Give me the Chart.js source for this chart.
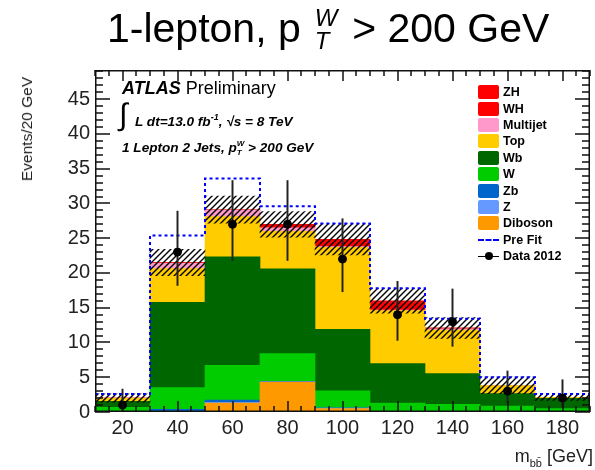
<!DOCTYPE html>
<html>
<head>
<meta charset="utf-8">
<script src="https://cdn.jsdelivr.net/npm/chart.js@4"></script>
<style>
  body { margin: 0; background: #fff; font-family: "Liberation Sans", Arial, sans-serif; }
  #wrap { position: relative; width: 595px; height: 470px; overflow: hidden; }
  canvas { position: absolute; left: 0; top: 0; }
  .abs { position: absolute; white-space: nowrap; color: #000; }
  #title { left: 107px; top: 8px; font-size: 41px; line-height: 40px; }
  .ss { display: inline-block; position: relative; width: 26px; height: 10px; margin-left: 14px; }
  .ss i { position: absolute; left: 0; font-size: 24px; line-height: 24px; }
  #ytitle { left: 27px; top: 129px; font-size: 15.5px; color: #222; transform: translate(-50%, -50%) rotate(-90deg); }
  #xtitle { right: 2px; top: 446px; font-size: 18px; color: #222; }
  #atlas { left: 122px; top: 78px; font-size: 18px; }
  .info { font-style: italic; font-weight: bold; font-size: 13.6px; }
  #lumi { left: 135px; top: 112px; }
  #integ { left: 119px; top: 100px; font-size: 31px; font-style: normal; font-weight: normal; line-height: 30px; }
  #sel { left: 122px; top: 139px; }
  #legend { left: 478px; top: 84px; }
  .row { height: 16.4px; display: flex; align-items: center; font-weight: bold; font-size: 12.5px; }
  .sw { width: 21px; height: 14px; border-radius: 2px; margin-right: 4px; position: relative; }
</style>
</head>
<body>
<div id="wrap">
  <canvas id="chart" width="595" height="470"></canvas>
  <div class="abs" id="title">1-lepton, p<span class="ss"><i style="top:-26px">W</i><i style="top:-3px">T</i></span> &gt; 200 GeV</div>
  <div class="abs" id="ytitle">Events/20 GeV</div>
  <div class="abs" id="xtitle">m<sub style="font-size:11px">bb&#772;</sub> [GeV]</div>
  <div class="abs" id="atlas"><b><i>ATLAS</i></b> Preliminary</div>
  <div class="abs" id="integ">&int;</div>
  <div class="abs info" id="lumi">L dt=13.0 fb<sup style="font-size:9px">-1</sup>,  &radic;s = 8 TeV</div>
  <div class="abs info" id="sel">1 Lepton 2 Jets, p<sub style="font-size:8px">T</sub><sup style="font-size:8px;margin-left:-5px">W</sup> &gt; 200 GeV</div>
  <div class="abs" id="legend"></div>
</div>
<script>
// m_bb bins, 20 GeV wide
const binCenters = [20, 40, 60, 80, 100, 120, 140, 160, 180];
const binEdges = [10, 30, 50, 70, 90, 110, 130, 150, 170, 190];
const xTickLabels = [20, 40, 60, 80, 100, 120, 140, 160, 180];
const yTickLabels = [0, 5, 10, 15, 20, 25, 30, 35, 40, 45];

// post-fit backgrounds and signal, stacked bottom to top
const diboson  = [0.05, 0.05, 1.3, 4.3, 0.5, 0.05, 0.05, 0.02, 0.02];
const zLight   = [0, 0.05, 0.1, 0.05, 0.05, 0.02, 0, 0, 0];
const zb       = [0.02, 0.3, 0.3, 0.05, 0.05, 0.03, 0.05, 0.02, 0.02];
const wLight   = [0.6, 3.1, 5.03, 4.0, 2.43, 1.2, 1.0, 0.8, 0.45];
const wb       = [0.85, 12.27, 15.6, 12.18, 8.87, 5.67, 4.43, 1.81, 1.46];
const ttbar    = [0.45, 4.88, 5.77, 5.42, 11.8, 7.63, 6.27, 1.15, 0.15];
const multijet = [0.05, 0.75, 0.9, 0.5, 0.1, 0.05, 0.15, 0.05, 0.02];
const wh       = [0, 0.05, 0.05, 0.4, 0.8, 1.1, 0.1, 0, 0];
const zh       = [0, 0.05, 0.05, 0.1, 0.25, 0.25, 0.05, 0, 0];

// total uncertainty on the stack (half width)
const bkgUnc = [0.6, 1.9, 1.95, 1.85, 2.25, 1.8, 1.5, 1.2, 0.45];
// pre-fit total
const preFit = [2.6, 25.4, 33.6, 29.6, 27.1, 17.8, 13.4, 5.0, 2.6];

// data 2012 with poisson error bars
const data2012 = [1, 23, 27, 27, 22, 14, 13, 3, 2];
const dataLow  = [0.17, 18.2, 21.8, 21.8, 17.3, 10.3, 9.45, 1.37, 0.71];
const dataHigh = [3.3, 28.9, 33.3, 33.3, 27.8, 18.8, 17.7, 5.9, 4.64];

const samples = [
  { name: 'Diboson',  values: diboson,  color: '#ff9900' },
  { name: 'Z',        values: zLight,   color: '#6699ff' },
  { name: 'Zb',       values: zb,       color: '#0066cc' },
  { name: 'W',        values: wLight,   color: '#00cc00' },
  { name: 'Wb',       values: wb,       color: '#006600' },
  { name: 'Top',      values: ttbar,    color: '#ffcc00' },
  { name: 'Multijet', values: multijet, color: '#ff99cc' },
  { name: 'WH',       values: wh,       color: '#ff0000' },
  { name: 'ZH',       values: zh,       color: '#ff0000' }
];

// hatch for the uncertainty band
function makeHatch() {
  const c = document.createElement('canvas');
  c.width = 6; c.height = 6;
  const g = c.getContext('2d');
  g.strokeStyle = '#000';
  g.lineWidth = 1.4;
  g.beginPath();
  g.moveTo(0, 6); g.lineTo(6, 0);
  g.moveTo(-1, 1); g.lineTo(1, -1);
  g.moveTo(5, 7); g.lineTo(7, 5);
  g.stroke();
  return g.createPattern(c, 'repeat');
}

const totals = binCenters.map((_, i) => samples.reduce((s, smp) => s + smp.values[i], 0));

const datasets = samples.map(s => ({
  type: 'bar',
  label: s.name,
  data: binCenters.map((x, i) => ({ x: x, y: s.values[i] })),
  backgroundColor: s.color,
  borderWidth: 0,
  barPercentage: 1,
  categoryPercentage: 1,
  order: 0
}));

datasets.push({
  type: 'bar',
  label: 'band',
  stack: 'band',
  grouped: false,
  data: binCenters.map((x, i) => ({ x: x, y: [totals[i] - bkgUnc[i], totals[i] + bkgUnc[i]] })),
  backgroundColor: makeHatch(),
  borderWidth: 0,
  barPercentage: 1,
  categoryPercentage: 1,
  order: -1
});

datasets.push({
  type: 'line',
  label: 'Pre Fit',
  stack: 'prefit',
  data: binEdges.map((x, i) => ({ x: x, y: preFit[Math.min(i, preFit.length - 1)] })),
  borderColor: '#0000ff',
  borderWidth: 2,
  borderDash: [3, 3],
  stepped: 'before',
  pointRadius: 0,
  fill: false,
  order: -2
});

datasets.push({
  type: 'bar',
  label: 'errors',
  stack: 'err',
  grouped: false,
  data: binCenters.map((x, i) => ({ x: x, y: [dataLow[i], dataHigh[i]] })),
  backgroundColor: '#222',
  borderWidth: 0,
  barThickness: 1.3,
  order: -3
});

datasets.push({
  type: 'scatter',
  label: 'Data 2012',
  stack: 'data',
  data: binCenters.map((x, i) => ({ x: x, y: data2012[i] })),
  backgroundColor: '#000',
  borderColor: '#000',
  pointRadius: 4,
  pointHoverRadius: 4,
  showLine: false,
  order: -4
});

// frame with inward ticks on all four sides
const frameTicks = {
  id: 'frameTicks',
  afterDraw(chart) {
    const ctx = chart.ctx;
    const a = chart.chartArea;
    const xs = chart.scales.x;
    const ys = chart.scales.y;
    const left = Math.round(a.left), right = Math.round(a.right);
    const topY = Math.round(a.top), bottom = Math.round(a.bottom);
    ctx.save();
    ctx.fillStyle = '#111';
    ctx.fillRect(left, topY, right - left, 1.5);
    ctx.fillRect(left, bottom - 1.5, right - left, 1.5);
    ctx.fillRect(left, topY, 1.5, bottom - topY);
    ctx.fillRect(right - 1.5, topY, 1.5, bottom - topY);
    for (let v = 10; v <= 190; v += 5) {
      const px = Math.round(xs.getPixelForValue(v));
      const len = v % 20 === 0 ? 11 : 6;
      ctx.fillRect(px - 0.75, bottom - len, 1.5, len);
      ctx.fillRect(px - 0.75, topY, 1.5, len);
    }
    for (let v = 0; v <= 49; v += 1) {
      const py = Math.round(ys.getPixelForValue(v));
      const len = v % 5 === 0 ? 15 : 8;
      ctx.fillRect(left, py - 0.75, len, 1.5);
      ctx.fillRect(right - len, py - 0.75, len, 1.5);
    }
    ctx.restore();
  }
};

new Chart(document.getElementById('chart'), {
  type: 'bar',
  data: { datasets: datasets },
  options: {
    responsive: false,
    animation: false,
    events: [],
    layout: { padding: { top: 70, right: 1, left: 0, bottom: 0 } },
    plugins: { legend: { display: false }, tooltip: { enabled: false } },
    scales: {
      x: {
        type: 'linear',
        min: 10,
        max: 190,
        offset: false,
        stacked: true,
        grid: { display: false, drawTicks: false, offset: false },
        border: { display: false },
        afterBuildTicks: s => { s.ticks = xTickLabels.map(v => ({ value: v })); },
        afterFit: s => { s.height = 58; },
        ticks: { font: { size: 20, family: 'Liberation Sans' }, color: '#222', padding: 4, maxRotation: 0 }
      },
      y: {
        min: 0,
        max: 49.2,
        stacked: true,
        grid: { display: false, drawTicks: false },
        border: { display: false },
        afterBuildTicks: s => { s.ticks = yTickLabels.map(v => ({ value: v })); },
        afterFit: s => { s.width = 95; },
        ticks: { font: { size: 20, family: 'Liberation Sans' }, color: '#222', padding: 5 }
      }
    }
  },
  plugins: [frameTicks]
});

// legend, top to bottom
const legend = document.getElementById('legend');
samples.slice().reverse().forEach(s => {
  const row = document.createElement('div');
  row.className = 'row';
  row.innerHTML = `<span class="sw" style="background:${s.color}"></span>${s.name}`;
  legend.appendChild(row);
});
const pre = document.createElement('div');
pre.className = 'row';
pre.innerHTML = '<span class="sw" style="height:0;border-top:2.5px dashed #0000ff;border-radius:0"></span>Pre Fit';
legend.appendChild(pre);
const dat = document.createElement('div');
dat.className = 'row';
dat.innerHTML = '<span class="sw" style="height:14px"><span style="position:absolute;left:0;top:6.5px;width:21px;height:1.5px;background:#000"></span><span style="position:absolute;left:6.5px;top:3px;width:8px;height:8px;border-radius:50%;background:#000"></span></span>Data 2012';
legend.appendChild(dat);
</script>
</body>
</html>
